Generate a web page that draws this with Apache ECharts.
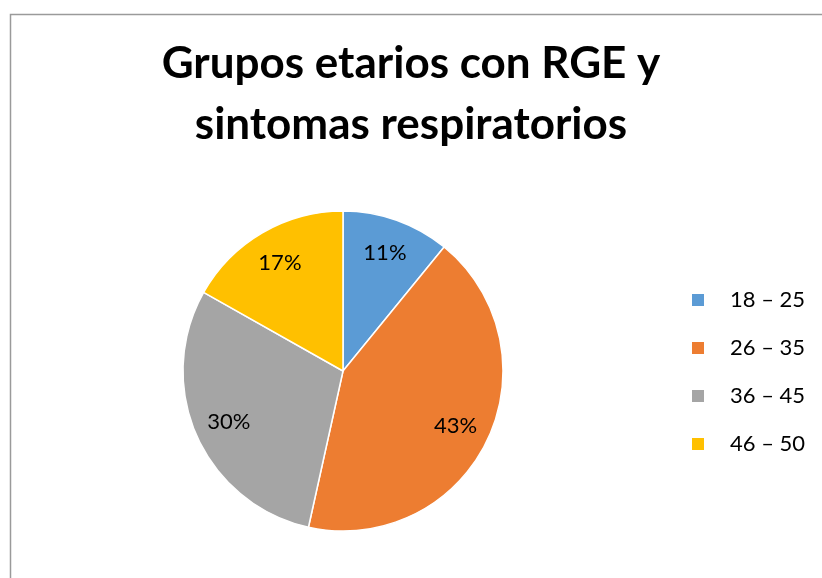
<!DOCTYPE html>
<html>
<head>
<meta charset="utf-8">
<script src="https://cdn.jsdelivr.net/npm/echarts@6/dist/echarts.min.js"></script>
<style>html,body{margin:0;padding:0;background:#fff;}#c{width:822px;height:578px;}</style>
</head>
<body>
<div id="c"></div>
<script>
const titleLines = ['Grupos etarios con RGE y', 'sintomas respiratorios'];
const categories = ['18 – 25', '26 – 35', '36 – 45', '46 – 50'];
const values = [11, 43, 30, 17];
const colors = ['#5B9BD5', '#ED7D31', '#A5A5A5', '#FFC000'];

const data = categories.map((c, i) => ({ name: c, value: values[i], itemStyle: { color: colors[i] } }));
const chart = echarts.init(document.getElementById('c'), null, { renderer: 'canvas' });
chart.setOption({
  animation: false,
  backgroundColor: '#fff',
  title: {
    text: titleLines.join('\n'),
    left: 'center',
    top: 33,
    padding: [0, 0, 0, 20],
    textStyle: { fontFamily: 'Lato', fontWeight: 'bold', fontSize: 44, lineHeight: 61, color: '#000' }
  },
  legend: {
    orient: 'vertical',
    left: 685,
    top: 284,
    itemWidth: 14,
    itemHeight: 14,
    itemGap: 26,
    icon: 'rect',
    data: categories,
    textStyle: { fontFamily: 'Lato', fontSize: 22, color: '#000', lineHeight: 14, padding: [0, 0, 0, 20] }
  },
  graphic: [{
    type: 'rect', silent: true,
    shape: { x: 10.5, y: 14.5, width: 900, height: 700 },
    style: { fill: 'none', stroke: '#9a9a9a', lineWidth: 1.5 }
  }],
  series: [{
    type: 'pie',
    center: [343, 371],
    radius: [0, 160],
    startAngle: 90,
    clockwise: true,
    label: { show: false },
    labelLine: { show: false },
    itemStyle: { borderColor: '#fff', borderWidth: 1.5 },
    emphasis: { disabled: true },
    data: data
  }, {
    type: 'pie',
    center: [343, 371],
    radius: [84, 160],
    startAngle: 90,
    clockwise: true,
    silent: true,
    legendHoverLink: false,
    itemStyle: { opacity: 0 },
    label: { show: true, position: 'inside', formatter: '{c}%', fontFamily: 'Lato', fontSize: 22, color: '#000', opacity: 1 },
    labelLine: { show: false },
    emphasis: { disabled: true },
    data: categories.map((c, i) => ({ name: c, value: values[i] }))
  }]
});
</script>
</body>
</html>
